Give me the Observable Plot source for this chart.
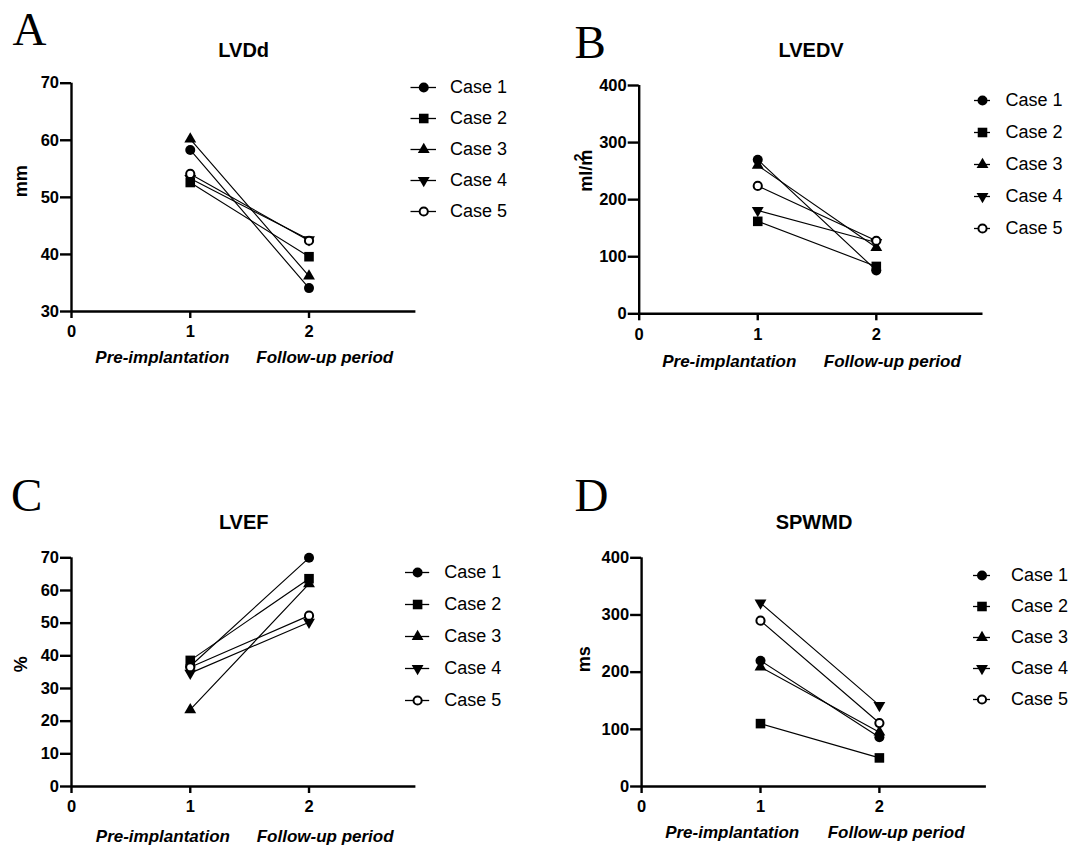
<!DOCTYPE html>
<html><head><meta charset="utf-8">
<script src="https://cdn.jsdelivr.net/npm/d3@7"></script>
<script src="https://cdn.jsdelivr.net/npm/@observablehq/plot@0.6"></script>
<style>
html,body{margin:0;padding:0;background:#fff;}
#chart{position:relative;width:1071px;height:847px;overflow:hidden;background:#fff;}
#chart svg{position:absolute;}
</style></head><body><div id="chart"></div>
<script>
// ---- data ----
const cases = ["Case 1", "Case 2", "Case 3", "Case 4", "Case 5"];
const timepoints = [1, 2];
const periodLabels = ["Pre-implantation", "Follow-up period"];
const xTicks = [0, 1, 2];

const titles = ["LVDd", "LVEDV", "LVEF", "SPWMD"];
const letters = ["A", "B", "C", "D"];
const yLabels = ["mm", "ml/m", "%", "ms"];
const yLabelSups = ["", "2", "", ""];

const lvddTicks = [30, 40, 50, 60, 70];
const lvedvTicks = [0, 100, 200, 300, 400];
const lvefTicks = [0, 10, 20, 30, 40, 50, 60, 70];
const spwmdTicks = [0, 100, 200, 300, 400];

const lvddPre   = [58.3, 52.6, 60.2, 53.3, 54.1];
const lvddPost  = [34.1, 39.6, 36.2, 42.6, 42.4];
const lvedvPre  = [270, 162, 260, 181, 224];
const lvedvPost = [76, 83, 116, 125, 128];
const lvefPre   = [36.8, 38.6, 23.5, 34.7, 36.5];
const lvefPost  = [70.0, 63.6, 62.0, 50.3, 52.3];
const spwmdPre  = [220, 110, 209, 321, 290];
const spwmdPost = [86, 50, 95, 142, 111];

// ---- styles ----
const SANS = "'Liberation Sans', Arial, Helvetica, sans-serif";
const SERIF = "'Liberation Serif', 'Times New Roman', serif";
const downTriangle = {
  draw(ctx, size) {
    const y = -Math.sqrt(size / (3 * Math.sqrt(3)));
    ctx.moveTo(0, -2 * y);
    ctx.lineTo(-Math.sqrt(3) * y, y);
    ctx.lineTo(Math.sqrt(3) * y, y);
    ctx.closePath();
  }
};
const caseStyle = [
  {symbol: d3.symbolCircle, r: 5, fill: "black"},
  {symbol: d3.symbolSquare, r: 5.4, fill: "black"},
  {symbol: d3.symbolTriangle, r: 4.4, fill: "black"},
  {symbol: downTriangle, r: 4.4, fill: "black"},
  {symbol: d3.symbolCircle, r: 4.1, fill: "white", stroke: "black", strokeWidth: 2}
];

function rows(pre, post) {
  return cases.flatMap((c, i) => [
    {case: c, t: timepoints[0], v: pre[i]},
    {case: c, t: timepoints[1], v: post[i]}
  ]);
}
const periods = timepoints.map((t, i) => ({t, label: periodLabels[i]}));

function dotsFor(data) {
  return caseStyle.map((s, i) => Plot.dot(data.filter(d => d.case === cases[i]), {
    x: "t", y: "v", symbol: s.symbol, r: s.r, fill: s.fill,
    stroke: s.stroke || "none", strokeWidth: s.strokeWidth || 0
  }));
}

function place(svg, left, top) {
  svg.style.left = left + "px";
  svg.style.top = top + "px";
  return svg;
}

function panel(cfg) {
  const b = cfg.box, f = cfg.frame;
  const data = rows(cfg.pre, cfg.post);
  const marks = [
    Plot.ruleX([0], {stroke: "black", strokeWidth: 2.4}),
    Plot.ruleY([cfg.ticks[0]], {stroke: "black", strokeWidth: 2.4}),
    Plot.axisY({ticks: cfg.ticks, tickSize: 11, tickPadding: 1.5, strokeWidth: 2.4, label: null,
      tickFormat: d => String(d), fontSize: 16.5, fontWeight: "bold", fill: "black", stroke: "black"}),
    Plot.axisX({ticks: xTicks, tickSize: 7, tickPadding: 7, strokeWidth: 2.4, label: null,
      tickFormat: d => String(d), fontSize: 16.5, fontWeight: "bold", fill: "black", stroke: "black"}),
    Plot.line(data, {x: "t", y: "v", z: "case", stroke: "black", strokeWidth: 1.15}),
    ...dotsFor(data),
    Plot.text([cfg.title], {frameAnchor: "top", lineAnchor: "middle", dy: cfg.titleDy,
      fontSize: 20, fontWeight: "bold", fill: "black"}),
    Plot.text([cfg.yLabel], {frameAnchor: "left", lineAnchor: "middle", rotate: -90, dx: cfg.ylDx, dy: cfg.ylDy,
      fontSize: 18, fontWeight: "bold", fill: "black"}),
    Plot.text([periods[0]], {x: "t", text: "label", frameAnchor: "bottom", lineAnchor: "middle",
      dx: cfg.subDx[0], dy: cfg.subDy, fontSize: 17, fontWeight: "bold", fontStyle: "italic", fill: "black"}),
    Plot.text([periods[1]], {x: "t", text: "label", frameAnchor: "bottom", lineAnchor: "middle",
      dx: cfg.subDx[1], dy: cfg.subDy, fontSize: 17, fontWeight: "bold", fontStyle: "italic", fill: "black"}),
    Plot.text([cfg.letter], {frameAnchor: "top-left", lineAnchor: "middle", textAnchor: "start",
      dx: cfg.letterDx, dy: cfg.letterDy, fontFamily: SERIF, fontSize: 47, fontWeight: "normal", fill: "black"})
  ];
  if (cfg.sup) {
    marks.push(Plot.text([cfg.sup], {frameAnchor: "left", lineAnchor: "middle", rotate: -90,
      dx: cfg.supDx, dy: cfg.supDy, fontSize: 14, fontWeight: "bold", fill: "black"}));
  }
  const svg = Plot.plot({
    width: b.w, height: b.h,
    marginLeft: f.x0 - b.left, marginRight: b.left + b.w - f.x1,
    marginTop: f.y0 - b.top, marginBottom: b.top + b.h - f.y1,
    x: {domain: [0, 2.9]},
    y: {domain: [cfg.ticks[0], cfg.ticks[cfg.ticks.length - 1]]},
    style: {fontFamily: SANS, fontSize: "16px", fontWeight: "bold", color: "black", background: "transparent", overflow: "visible"},
    marks
  });
  return place(svg, b.left, b.top);
}

function legend(cfg) {
  const b = cfg.box;
  const svg = Plot.plot({
    width: b.w, height: b.h, margin: 0,
    x: {domain: [0, 1], range: cfg.lineX.map(v => v - b.left), axis: null},
    y: {type: "point", domain: cases, range: [cfg.row0 - b.top, cfg.row0 + 4 * cfg.step - b.top], padding: 0, axis: null},
    style: {fontFamily: SANS, fontSize: "18px", fontWeight: "normal", color: "black", background: "transparent", overflow: "visible"},
    marks: [
      Plot.ruleY(cases, {y: d => d, x1: 0, x2: 1, stroke: "black", strokeWidth: 1.3}),
      ...caseStyle.map((s, i) => Plot.dot([cases[i]], {
        x: 0.5, y: d => d, symbol: s.symbol, r: s.r, fill: s.fill,
        stroke: s.stroke || "none", strokeWidth: s.strokeWidth || 0
      })),
      Plot.text(cases, {x: 1, y: d => d, text: d => d, textAnchor: "start", lineAnchor: "middle",
        dx: cfg.gap, fontSize: 18, fontWeight: "normal", fill: "black"})
    ]
  });
  return place(svg, b.left, b.top);
}

const panels = [
  {pre: lvddPre, post: lvddPost, ticks: lvddTicks, title: titles[0], letter: letters[0], yLabel: yLabels[0], sup: yLabelSups[0],
   box: {left: 0, top: 0, w: 535, h: 420}, frame: {x0: 71, x1: 415.4, y0: 82.7, y1: 311},
   titleDy: -32.4, ylDx: -50.2, ylDy: 0, subDx: [-27.9, 15.7], subDy: 46, letterDx: -59, letterDy: -53.5},
  {pre: lvedvPre, post: lvedvPost, ticks: lvedvTicks, title: titles[1], letter: letters[1], yLabel: yLabels[1], sup: yLabelSups[1],
   box: {left: 535, top: 0, w: 536, h: 420}, frame: {x0: 638.7, x1: 982.5, y0: 85, y1: 313.3},
   titleDy: -34.7, ylDx: -52.7, ylDy: -8, supDx: -60, supDy: -38.5,
   subDx: [-28.5, 16], subDy: 47.7, letterDx: -64.7, letterDy: -42.5},
  {pre: lvefPre, post: lvefPost, ticks: lvefTicks, title: titles[2], letter: letters[2], yLabel: yLabels[2], sup: yLabelSups[2],
   box: {left: 0, top: 420, w: 535, h: 427}, frame: {x0: 71, x1: 415.4, y0: 557.3, y1: 786},
   titleDy: -34.8, ylDx: -50.2, ylDy: 0, subDx: [-27.4, 16.1], subDy: 49.8, letterDx: -60.4, letterDy: -61.5},
  {pre: spwmdPre, post: spwmdPost, ticks: spwmdTicks, title: titles[3], letter: letters[3], yLabel: yLabels[3], sup: yLabelSups[3],
   box: {left: 535, top: 420, w: 536, h: 427}, frame: {x0: 641.1, x1: 985.9, y0: 557.3, y1: 786},
   titleDy: -35.6, ylDx: -56.9, ylDy: 0, subDx: [-28.3, 16.7], subDy: 46.5, letterDx: -67.1, letterDy: -61.5}
];
const legends = [
  {box: {left: 398, top: 66, w: 136, h: 168}, lineX: [410.5, 436], row0: 85, step: 31.9, gap: 13.5},
  {box: {left: 962, top: 82, w: 109, h: 166}, lineX: [974, 990], row0: 100, step: 32.1, gap: 15},
  {box: {left: 393, top: 553, w: 141, h: 166}, lineX: [405, 429.2], row0: 571.7, step: 32.1, gap: 14.5},
  {box: {left: 962, top: 555, w: 109, h: 164}, lineX: [973, 990], row0: 573.3, step: 31.7, gap: 20.5}
];

const root = document.getElementById("chart");
panels.forEach(p => root.appendChild(panel(p)));
legends.forEach(l => root.appendChild(legend(l)));
</script>
</body></html>
